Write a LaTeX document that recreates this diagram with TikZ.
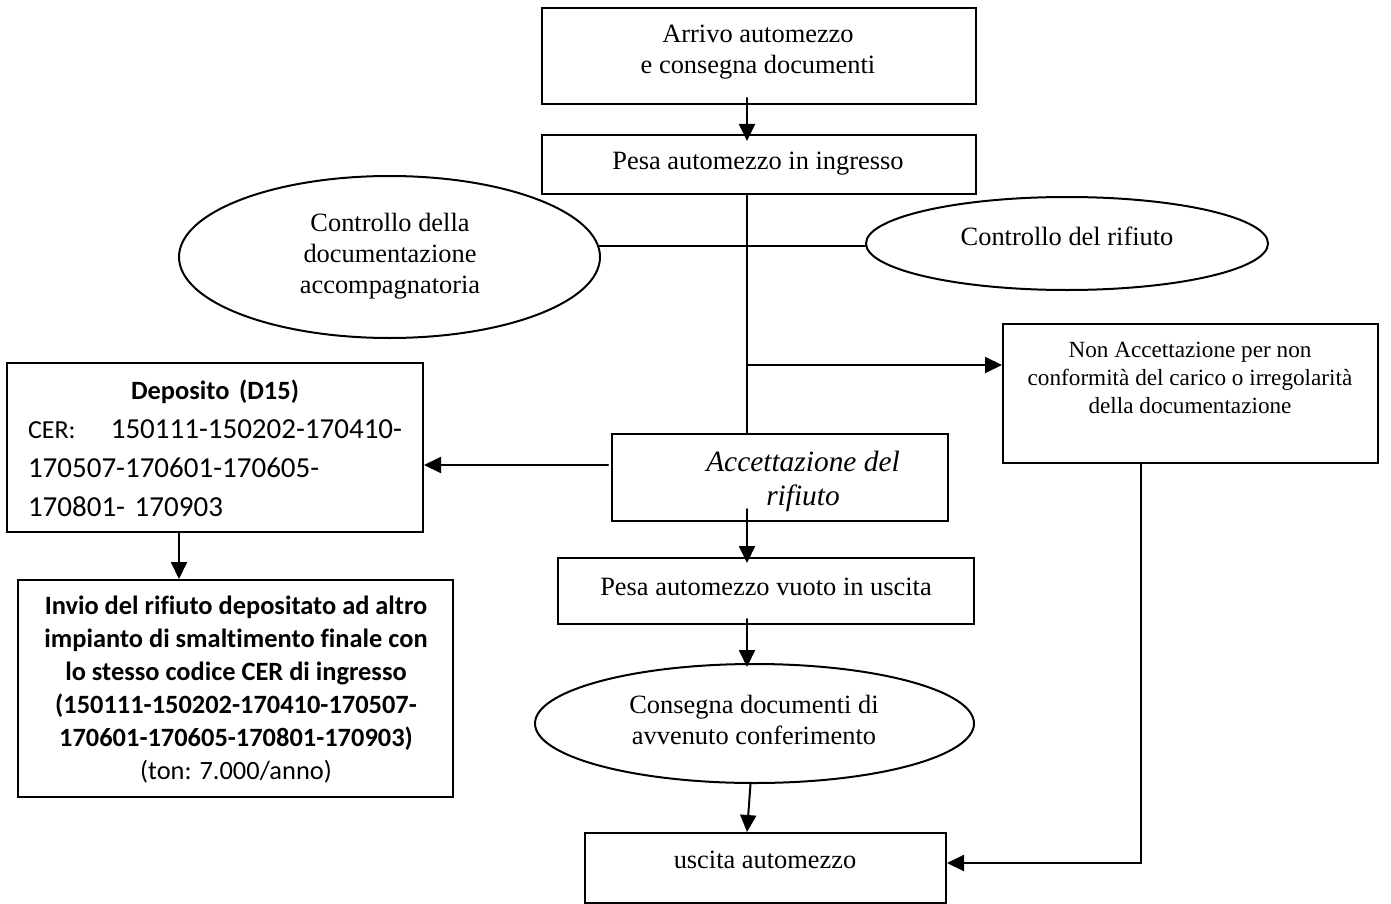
\documentclass[tikz,border=0pt]{standalone}
\usepackage{fontspec}
\setmainfont{Liberation Serif}
\newfontfamily\calibri[Ligatures=NoCommon]{Carlito}
\usepackage{tikz}
\usetikzlibrary{shapes,arrows.meta}
\tikzset{>={Triangle[length=8.5pt,width=8pt]}}

\tikzset{
	box/.style={draw,line width=1pt,rectangle,inner sep=0pt},
	oval/.style={draw,line width=1pt,ellipse,inner sep=0pt},
	txt/.style={align=center,inner sep=0pt,font=\fontsize{13.2}{15.5}\selectfont},
	conn/.style={line width=1pt}
}

\begin{document}
\begin{tikzpicture}[line cap=round,line join=miter,x=0.5pt,y=-0.5pt]
	\useasboundingbox (0,0) rectangle (1391,904);
	% boxes and ovals
	\node[box,minimum width=217pt,minimum height=48pt] (arrivo) at (759,56) {};
	\node[txt] (arrivo-t) at (758,52) {Arrivo automezzo\\e consegna documenti};
	\node[box,minimum width=217pt,minimum height=29.5pt] (pesain) at (759,164.5) {};
	\node[txt] (pesain-t) at (758,164) {Pesa automezzo in ingresso};
	\node[oval,minimum width=210.5pt,minimum height=81pt] (ctrldoc) at (389.5,257) {};
	\node[txt] (ctrldoc-t) at (390,256) {Controllo della\\documentazione\\accompagnatoria};
	\node[oval,minimum width=201pt,minimum height=46.5pt] (ctrlrif) at (1067,243.5) {};
	\node[txt] (ctrlrif-t) at (1067,236) {Controllo del rifiuto};
	\node[box,minimum width=187.5pt,minimum height=69.5pt] (nonacc) at (1190.5,393.5) {};
	\node[txt,font=\fontsize{11.6}{14}\selectfont] (nonacc-t) at (1190,378) {Non Accettazione per non\\conformità del carico o irregolarità\\della documentazione};
	\node[box,minimum width=168pt,minimum height=43.5pt] (acc) at (780,477.5) {};
	\node[txt,font=\itshape\fontsize{14.7}{17}\selectfont] (acc-t) at (803,481) {Accettazione del\\rifiuto};
	\node[box,minimum width=208pt,minimum height=84.5pt] (dep) at (215,447.5) {};
	\node[txt,align=left,text width=187pt,font=\calibri\fontsize{14.5}{19.5}\selectfont] (dep-t) at (215,448.5) {\makebox[187pt]{\bfseries\fontsize{13.2}{16}\selectfont Deposito (D15)}\\
		{\fontsize{13}{14}\selectfont CER:}\hfill 150111-150202-170410-\\
		170507-170601-170605-\\
		170801- 170903};
	\node[box,minimum width=217.5pt,minimum height=108.5pt] (invio) at (235.5,688.5) {};
	\node[txt,font=\calibri\bfseries\fontsize{13.2}{16.5}\selectfont] (invio-t) at (236,690) {Invio del rifiuto depositato ad altro\\impianto di smaltimento finale con\\lo stesso codice CER di ingresso\\(150111-150202-170410-170507-\\170601-170605-170801-170903)\\{\mdseries (ton: 7.000/anno)}};
	\node[box,minimum width=208pt,minimum height=33pt] (pesaout) at (766,591) {};
	\node[txt] (pesaout-t) at (766,587) {Pesa automezzo vuoto in uscita};
	\node[oval,minimum width=219.5pt,minimum height=59.5pt] (consegna) at (754.5,723.5) {};
	\node[txt] (consegna-t) at (754,720) {Consegna documenti di\\avvenuto conferimento};
	\node[box,minimum width=180.5pt,minimum height=35pt] (uscita) at (765.5,868) {};
	\node[txt] (uscita-t) at (765,860) {uscita automezzo};
	% connectors
	\coordinate (spine) at (747,0);
	\coordinate (split) at (747,365);
	\coordinate (todep) at (608,465);
	\coordinate (depdrop) at (179,0);
	\coordinate (nadrop) at (1141,0);
	\draw[conn,->,shorten >=-3.5pt] ([yshift=3.5pt]arrivo.south -| spine) -- (pesain.north -| spine);
	\draw[conn] (pesain.south -| spine) -- (acc.north -| spine);
	\draw[conn] (ctrldoc.3) -- (ctrldoc.3 -| ctrlrif.west);
	\draw[conn,->] (split) -- (split -| nonacc.west);
	\draw[conn,->] (todep) -- (todep -| dep.east);
	\draw[conn,->] (dep.south -| depdrop) -- (invio.north -| depdrop);
	\draw[conn,->,shorten >=-3pt] ([yshift=6.5pt]acc.south -| spine) -- (pesaout.north -| spine);
	\draw[conn,->,shorten >=-2pt] ([yshift=3pt]pesaout.south -| spine) -- (consegna.north -| spine);
	\draw[conn,->] ([xshift=-2pt]consegna.south) -- (uscita.north -| spine);
	\draw[conn,->] (nonacc.south -| nadrop) |- ([yshift=2.5pt]uscita.east);
\end{tikzpicture}
\end{document}
